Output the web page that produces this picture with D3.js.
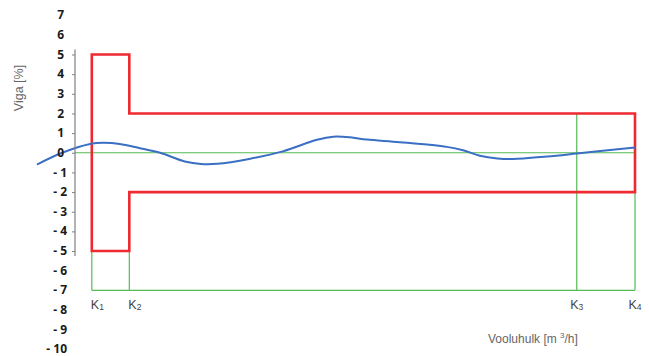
<!DOCTYPE html>
<html>
<head>
<meta charset="utf-8">
<script src="https://cdn.jsdelivr.net/npm/d3@7/dist/d3.min.js"></script>
<style>
  html, body { margin: 0; padding: 0; background: #fff; }
  svg { display: block; }
</style>
</head>
<body>
<svg id="chart" width="649" height="356"></svg>
<script>
// ---- data ----
const yTickValues = [7, 6, 5, 4, 3, 2, 1, 0, -1, -2, -3, -4, -5, -6, -7, -8, -9, -10];
const kNames = ["K", "K", "K", "K"];
const kSubs = ["1", "2", "3", "4"];
const kFlow = [3, 9.7, 89.6, 100];          // flow positions of K1..K4
const limitOuter = 5;                          // error limit between K1 and K2 (%)
const limitInner = 2;                          // error limit between K2 and K4 (%)
const baseLevel = -7;                          // level of the K reference lines
const curveFlow = [-6.8, -2.3, 2.7, 5.0, 8.0, 11.6, 15.2, 19.6, 22.5, 25.4, 31.3, 37.1, 43.2, 46.1, 49.1, 52.1, 58.0, 66.4, 69.3, 72.3, 75.4, 78.2, 84.3, 89.6, 100];
const curveError = [-0.6, 0, 0.45, 0.51, 0.45, 0.23, 0.0, -0.44, -0.57, -0.56, -0.3, 0.07, 0.66, 0.82, 0.79, 0.67, 0.54, 0.30, 0.13, -0.15, -0.29, -0.32, -0.19, -0.04, 0.27];
const yTitle = "Viga [%]";
const xTitleMain = "Vooluhulk [m ";
const xTitleSup = "3";
const xTitleEnd = "/h]";

// ---- scales ----
const svg = d3.select("#chart");
const x = d3.scaleLinear().domain([0, 100]).range([75, 635]);
const y = d3.scaleLinear().domain([-10, 7]).range([349.3, 15.2]);

const green = "#55bb55", red = "#ee2a30", blue = "#3a6fc4";

// ---- green reference lines ----
const g = svg.append("g");
g.append("line")
  .attr("x1", x(0)).attr("x2", x(kFlow[3]))
  .attr("y1", y(0)).attr("y2", y(0))
  .attr("stroke", green).attr("stroke-width", 1.2);
g.append("line")
  .attr("x1", x(kFlow[0])).attr("x2", x(kFlow[3]))
  .attr("y1", y(baseLevel)).attr("y2", y(baseLevel))
  .attr("stroke", green).attr("stroke-width", 1.2);
const kTop = [-limitOuter, -limitOuter, limitInner, -limitInner];
g.selectAll("line.kv").data(kFlow).join("line")
  .attr("class", "kv")
  .attr("x1", d => x(d)).attr("x2", d => x(d))
  .attr("y1", (d, i) => y(kTop[i])).attr("y2", y(baseLevel))
  .attr("stroke", green).attr("stroke-width", 1.2);

// ---- red limit envelope ----
const env = [
  [kFlow[0], limitOuter], [kFlow[1], limitOuter], [kFlow[1], limitInner], [kFlow[3], limitInner],
  [kFlow[3], -limitInner], [kFlow[1], -limitInner], [kFlow[1], -limitOuter], [kFlow[0], -limitOuter]
];
svg.append("path")
  .attr("d", d3.line().x(d => x(d[0])).y(d => y(d[1]))(env) + "Z")
  .attr("fill", "none").attr("stroke", red).attr("stroke-width", 2.6)
  .attr("stroke-linejoin", "miter");

// ---- blue error curve ----
const pts = curveFlow.map((f, i) => [f, curveError[i]]);
svg.append("path")
  .attr("d", d3.line().x(d => x(d[0])).y(d => y(d[1])).curve(d3.curveCatmullRom.alpha(0.5))(pts))
  .attr("fill", "none").attr("stroke", blue).attr("stroke-width", 2);

// ---- y axis ----
const fmt = v => v < 0 ? "- " + Math.abs(v) : String(v);
const yAxis = d3.axisLeft(y).tickValues(yTickValues).tickFormat(fmt).tickSize(3).tickPadding(4);
const ya = svg.append("g").attr("transform", `translate(${x(0)},0)`).call(yAxis);
ya.select(".domain").attr("d", `M0,${y(5.25)}V${y(-5.25)}`).attr("stroke", "#808080").attr("stroke-width", 1.2);
ya.selectAll(".tick line").attr("stroke", "#808080")
  .attr("display", d => Math.abs(d) <= 5 ? null : "none");
ya.selectAll(".tick text")
  .attr("font-family", "'Open Sans', sans-serif").attr("font-weight", "bold")
  .attr("font-size", 12).attr("fill", "#1a1a1a")
  .attr("dy", "0.3em")
  .attr("x", d => d < 0 ? -8 : -11);

// ---- K labels ----
const kl = svg.selectAll("text.k").data(kFlow).join("text")
  .attr("class", "k")
  .attr("x", (d, i) => i < 2 ? x(d) - 1 : x(d))
  .attr("y", 309)
  .attr("text-anchor", (d, i) => i < 2 ? "start" : "middle")
  .attr("font-family", "'Liberation Sans', Arial, sans-serif")
  .attr("font-size", 12.5).attr("fill", "#444");
kl.append("tspan").text((d, i) => kNames[i]);
kl.append("tspan").attr("font-size", 8.5).attr("dy", 0.5).text((d, i) => kSubs[i]);

// ---- axis titles ----
const xt = svg.append("text")
  .attr("x", 488).attr("y", 343)
  .attr("font-family", "'Liberation Sans', Arial, sans-serif")
  .attr("font-size", 12).attr("fill", "#666");
xt.append("tspan").text(xTitleMain);
xt.append("tspan").attr("font-size", 8).attr("dy", -5).text(xTitleSup);
xt.append("tspan").attr("dy", 5).text(xTitleEnd);

svg.append("text")
  .attr("transform", `translate(23,88) rotate(-90)`)
  .attr("text-anchor", "middle")
  .attr("font-family", "'Liberation Sans', Arial, sans-serif")
  .attr("font-size", 12.5).attr("fill", "#666")
  .text(yTitle);
</script>
</body>
</html>
